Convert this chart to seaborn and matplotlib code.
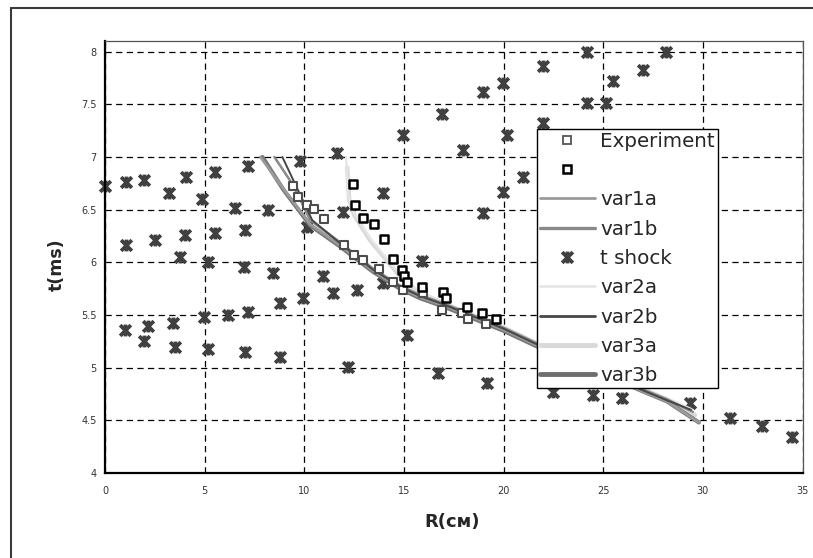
import numpy as np
import pandas as pd
import matplotlib
matplotlib.use("Agg")
import matplotlib.pyplot as plt
from matplotlib.lines import Line2D
from matplotlib.path import Path
import seaborn as sns

# ---------------- data ----------------
exp_R = [9.45, 9.7, 10.12, 10.49, 10.99, 12.0, 12.48, 12.96, 13.75, 14.47, 14.97,
         15.94, 16.89, 17.89, 18.23, 19.12]
exp_t = [6.72, 6.62, 6.54, 6.51, 6.41, 6.16, 6.07, 6.02, 5.94, 5.81, 5.74,
         5.71, 5.55, 5.52, 5.46, 5.41]

exp2_R = [12.46, 12.53, 12.96, 13.48, 13.98, 14.45, 14.92, 15.02, 15.17, 15.92,
          16.94, 17.11, 18.15, 18.9, 19.6]
exp2_t = [6.74, 6.54, 6.42, 6.36, 6.22, 6.03, 5.93, 5.87, 5.81, 5.77,
          5.72, 5.66, 5.58, 5.52, 5.46]

shock_R = [0.0, 1.05, 1.96, 3.21, 4.05, 4.88, 5.52, 6.52, 7.19, 8.19, 9.78, 11.63,
           14.97, 13.96, 11.96, 10.12,
           1.05, 2.51, 3.76, 4.01, 5.52, 7.02, 5.18, 6.99, 8.44, 10.95, 15.9,
           11.46, 12.63, 13.96, 9.95, 8.78, 7.19, 6.19, 4.97, 3.43, 2.17, 1.0,
           1.96, 3.51, 5.18, 7.02, 8.78, 12.21, 15.14,
           16.72, 19.15, 22.49, 24.5, 25.93, 29.35, 31.36, 32.95, 34.46,
           16.89, 17.98, 18.98, 19.95, 20.15, 20.96, 19.95, 18.95, 21.96, 21.96,
           24.17, 24.17, 25.14, 25.47, 26.98, 28.15]
shock_t = [6.72, 6.76, 6.78, 6.66, 6.81, 6.60, 6.86, 6.52, 6.91, 6.50, 6.96, 7.04,
           7.21, 6.66, 6.48, 6.34,
           6.16, 6.21, 6.05, 6.26, 6.28, 6.31, 6.00, 5.96, 5.90, 5.87, 6.01,
           5.71, 5.74, 5.80, 5.66, 5.61, 5.53, 5.50, 5.48, 5.42, 5.40, 5.36,
           5.25, 5.20, 5.18, 5.15, 5.10, 5.01, 5.31,
           4.95, 4.85, 4.77, 4.74, 4.71, 4.66, 4.52, 4.45, 4.34,
           7.41, 7.07, 7.62, 7.70, 7.21, 6.81, 6.67, 6.47, 7.86, 7.32,
           8.00, 7.51, 7.51, 7.72, 7.83, 8.00]

var1a_R = [7.8, 8.95, 10.3, 11.8, 13.45, 14.8, 15.8, 17.0, 20.0, 21.8, 24.3, 26.8, 28.2, 29.8]
var1a_t = [7.0, 6.70, 6.36, 6.16, 5.92, 5.76, 5.67, 5.59, 5.36, 5.20, 5.01, 4.79, 4.68, 4.48]

var1b_R = [8.5, 9.45, 10.3, 11.8, 13.45, 14.8, 15.8, 17.0, 20.0, 21.8, 24.3, 26.8, 28.2, 29.5]
var1b_t = [7.0, 6.73, 6.40, 6.19, 5.94, 5.78, 5.69, 5.61, 5.38, 5.22, 5.03, 4.81, 4.70, 4.58]

var2a_R = [12.1, 12.2, 12.46, 13.3, 14.13, 14.97, 15.8, 17.0, 20.0, 21.8, 24.3, 26.8, 28.2, 29.4]
var2a_t = [7.0, 6.64, 6.48, 6.23, 6.04, 5.85, 5.72, 5.62, 5.39, 5.23, 5.04, 4.82, 4.71, 4.61]

var2b_R = [8.9, 9.6, 10.4, 11.8, 13.45, 14.8, 15.8, 17.0, 20.0, 21.8, 24.3, 26.8, 28.2, 29.4]
var2b_t = [7.0, 6.72, 6.40, 6.18, 5.93, 5.77, 5.68, 5.60, 5.37, 5.21, 5.02, 4.80, 4.69, 4.60]

var3a_R = [12.15, 12.25, 12.5, 13.3, 14.13, 14.97, 15.8, 17.0, 20.0, 21.8, 24.3, 26.8, 28.2, 29.6]
var3a_t = [6.9, 6.60, 6.45, 6.21, 6.02, 5.83, 5.71, 5.61, 5.38, 5.22, 5.03, 4.81, 4.70, 4.55]

var3b_R = [7.9, 8.95, 10.3, 11.8, 13.45, 14.8, 15.8, 17.0, 20.0, 21.8, 24.3, 26.8, 28.2, 29.8]
var3b_t = [7.0, 6.69, 6.35, 6.15, 5.91, 5.75, 5.66, 5.58, 5.35, 5.19, 5.00, 4.79, 4.68, 4.48]

x_ticks = [0, 5, 10, 15, 20, 25, 30, 35]
x_tick_labels = ["0", "5", "10", "15", "20", "25", "30", "35"]
y_ticks = [4, 4.5, 5, 5.5, 6, 6.5, 7, 7.5, 8]
y_tick_labels = ["4", "4.5", "5", "5.5", "6", "6.5", "7", "7.5", "8"]

legend_labels = ["Experiment", "", "var1a", "var1b", "t shock",
                 "var2a", "var2b", "var3a", "var3b"]

# ---------------- figure ----------------
sns.set_style("white")
plt.rcParams["font.family"] = ["DejaVu Sans"]

W, H = 813, 558
fig = plt.figure(figsize=(W / 100, H / 100), dpi=100)
ax_l, ax_r, ax_t, ax_b = 105, 802.5, 40.7, 473
ax = fig.add_axes([ax_l / W, 1 - ax_b / H, (ax_r - ax_l) / W, (ax_b - ax_t) / H])

star = Path([(-1, -1), (1, 1), (-1, 1), (1, -1), (0, -1.1), (0, 1.1)],
            [Path.MOVETO, Path.LINETO] * 3)

line_specs = [
    (var3a_R, var3a_t, "#d9d9d9", 3.2),
    (var2a_R, var2a_t, "#e6e6e6", 1.6),
    (var3b_R, var3b_t, "#787878", 3.0),
    (var1a_R, var1a_t, "#9a9a9a", 2.0),
    (var1b_R, var1b_t, "#8a8a8a", 1.8),
    (var2b_R, var2b_t, "#474747", 1.4),
]
for R, t, c, lw in line_specs:
    sns.lineplot(x=R, y=t, sort=False, estimator=None, color=c, linewidth=lw,
                 ax=ax, zorder=3)

sns.scatterplot(x=shock_R, y=shock_t, marker=star, s=72, color="#404040",
                edgecolor="#404040", linewidth=2.7, ax=ax, zorder=2, clip_on=False)

sns.scatterplot(x=exp_R, y=exp_t, marker="s", s=26, color="white",
                edgecolor="#4d4d4d", linewidth=1.5, ax=ax, zorder=4)
sns.scatterplot(x=exp2_R, y=exp2_t, marker="s", s=30, color="white",
                edgecolor="black", linewidth=1.8, ax=ax, zorder=5)

ax.set_xlim(0, 35)
ax.set_ylim(4, 8.104)
ax.set_xticks(x_ticks)
ax.set_xticklabels(x_tick_labels)
ax.set_yticks(y_ticks)
ax.set_yticklabels(y_tick_labels)
ax.tick_params(axis="both", direction="out", length=3, width=1, color="black",
               labelsize=7, labelcolor="#333333", pad=3)
ax.tick_params(axis="x", pad=6)

ax.grid(True, color="black", linestyle=(0, (5, 3.5)), linewidth=0.9)
ax.set_axisbelow(True)
for side in ["left", "bottom"]:
    ax.spines[side].set_color("black")
    ax.spines[side].set_linewidth(1.6)
for side in ["top", "right"]:
    ax.spines[side].set_color("#555555")
    ax.spines[side].set_linewidth(0.9)

ax.set_xlabel("R(см)", fontsize=13, fontweight="bold")
ax.set_ylabel("t(ms)", fontsize=12.5, fontweight="bold")
ax.xaxis.label.set_verticalalignment("center")
ax.yaxis.label.set_verticalalignment("center")
ax.xaxis.set_label_coords((452.5 - ax_l) / (ax_r - ax_l), (ax_b - 521.7) / (ax_b - ax_t))
ax.yaxis.set_label_coords((57 - ax_l) / (ax_r - ax_l), (ax_b - 265) / (ax_b - ax_t))

# legend
handles = [
    Line2D([], [], marker="s", linestyle="none", markersize=5.5, markerfacecolor="white",
           markeredgecolor="#555555", markeredgewidth=1.3),
    Line2D([], [], marker="s", linestyle="none", markersize=6, markerfacecolor="white",
           markeredgecolor="black", markeredgewidth=1.8),
    Line2D([], [], color="#9a9a9a", linewidth=2.0),
    Line2D([], [], color="#8a8a8a", linewidth=2.4),
    Line2D([], [], marker=star, linestyle="none", markersize=8.5, color="#404040",
           markeredgewidth=2.7),
    Line2D([], [], color="#e6e6e6", linewidth=2.0),
    Line2D([], [], color="#474747", linewidth=2.0),
    Line2D([], [], color="#d9d9d9", linewidth=3.5),
    Line2D([], [], color="#6e6e6e", linewidth=3.5),
]
leg = ax.legend(handles, legend_labels, loc="upper left",
                bbox_to_anchor=(536.7 / W, 1 - 128.7 / H), bbox_transform=fig.transFigure,
                fontsize=14.3, frameon=True, fancybox=False, framealpha=1,
                edgecolor="black", borderpad=0.15, labelspacing=0.52,
                handlelength=2.8, handletextpad=0.25, borderaxespad=0)
leg.get_frame().set_linewidth(1.0)
leg.set_zorder(10)

# outer frame (left and top edges visible)
fig.add_artist(Line2D([11 / W, 11 / W], [0, 1 - 8 / H], transform=fig.transFigure,
                      color="#3a3a3a", linewidth=1.5))
fig.add_artist(Line2D([11 / W, 1], [1 - 8 / H, 1 - 8 / H], transform=fig.transFigure,
                      color="#3a3a3a", linewidth=1.5))

fig.savefig("out.png", dpi=100)
